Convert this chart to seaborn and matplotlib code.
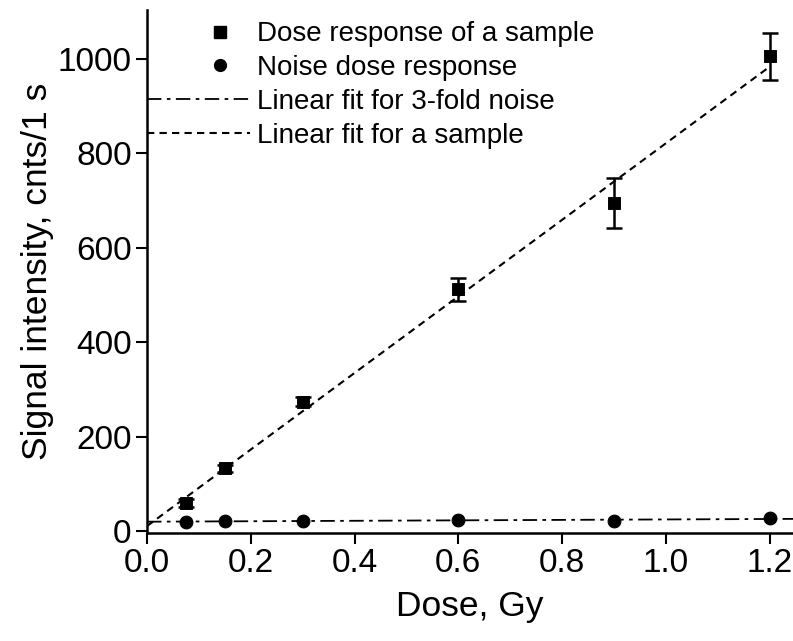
import numpy as np
import pandas as pd
import seaborn as sns
import matplotlib.pyplot as plt
from matplotlib.lines import Line2D
from matplotlib.legend_handler import HandlerLine2DCompound

# dose points (Gy)
dose = [0.075, 0.15, 0.3, 0.6, 0.9, 1.2]
# sample signal and its error bars (cnts/1 s)
sample_signal = [59, 133, 274, 512, 695, 1006]
sample_err = [8, 8, 10, 24, 52, 50]
# noise dose response
noise_signal = [19, 22, 22, 23, 22, 27]

df = pd.DataFrame({"dose": dose, "sample": sample_signal,
                   "err": sample_err, "noise": noise_signal})

# linear fits
k_s, b_s = np.polyfit(df["dose"], df["sample"], 1)
k_n, b_n = np.polyfit(df["dose"], df["noise"], 1)
fit_s = pd.DataFrame({"x": [0.0, 1.2]})
fit_s["y"] = k_s * fit_s["x"] + b_s
fit_n = pd.DataFrame({"x": [0.0, 1.245]})
fit_n["y"] = k_n * fit_n["x"] + b_n


class RightMarker(HandlerLine2DCompound):
    # legend marker sits to the right of the handle centre, as in Origin
    def get_xdata(self, legend, xdescent, ydescent, width, height, fontsize):
        xdata, xm = super().get_xdata(legend, xdescent, ydescent, width, height, fontsize)
        return xdata, [x + 0.21 * width for x in xm]


sns.set_theme(style="ticks")
plt.rcParams["font.family"] = ["Liberation Sans", "DejaVu Sans"]
plt.rcParams["text.color"] = "black"
plt.rcParams["axes.labelcolor"] = "black"

fig = plt.figure(figsize=(7.93, 6.41), dpi=100)
ax = fig.add_axes([0.1854, 0.1685, 0.8146, 0.816])

dashdot = (0, (8, 3, 2, 3))
dashed = (0, (3.5, 2.5))

sns.lineplot(data=fit_n, x="x", y="y", ax=ax, color="black", lw=1.3, linestyle=dashdot)
sns.lineplot(data=fit_s, x="x", y="y", ax=ax, color="black", lw=1.5, linestyle=dashed)
ax.errorbar(df["dose"], df["sample"], yerr=df["err"], fmt="none",
            ecolor="black", elinewidth=1.8, capsize=6, capthick=1.8)
sns.scatterplot(data=df, x="dose", y="sample", ax=ax, marker="s", s=70,
                color="black", edgecolor="black", zorder=5)
sns.scatterplot(data=df, x="dose", y="noise", ax=ax, marker="o", s=85,
                color="black", edgecolor="black", zorder=5)

ax.set_xlim(0, 1.245)
ax.set_ylim(-4, 1104)
ax.set_xticks([0.0, 0.2, 0.4, 0.6, 0.8, 1.0, 1.2])
ax.set_yticks([0, 200, 400, 600, 800, 1000])
ax.set_xticklabels(["0.0", "0.2", "0.4", "0.6", "0.8", "1.0", "1.2"])
ax.tick_params(labelsize=24, width=1.5, length=8, pad=3, color="black", labelcolor="black")
ax.set_xlabel("Dose, Gy", fontsize=25.5, labelpad=8)
ax.set_ylabel("Signal intensity, cnts/1 s", fontsize=25.5, labelpad=3)
sns.despine(ax=ax)
for sp in ["left", "bottom"]:
    ax.spines[sp].set_linewidth(1.8)
    ax.spines[sp].set_color("black")

handles = [
    Line2D([], [], marker="s", color="black", linestyle="none", markersize=8),
    Line2D([], [], marker="o", color="black", linestyle="none", markersize=8.5),
    Line2D([], [], color="black", lw=1.3, linestyle=dashdot),
    Line2D([], [], color="black", lw=1.5, linestyle=dashed),
]
labels = ["Dose response of a sample", "Noise dose response",
          "Linear fit for 3-fold noise", "Linear fit for a sample"]
ax.legend(handles, labels, loc="upper left", bbox_to_anchor=(0.0, 0.978),
          frameon=False, fontsize=20, handlelength=3.7, handletextpad=0.25,
          labelspacing=0.28, borderpad=0, borderaxespad=0,
          handler_map={handles[0]: RightMarker(), handles[1]: RightMarker()})

fig.savefig("out.png", dpi=100)
